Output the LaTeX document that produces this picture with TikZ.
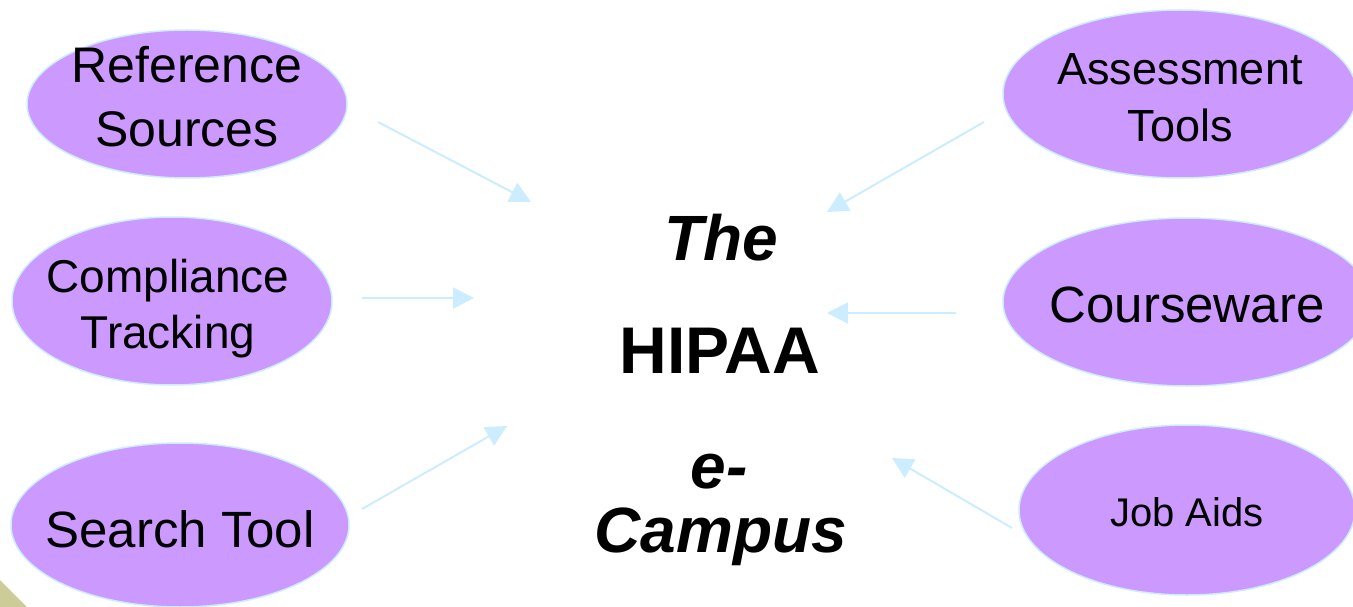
\documentclass[tikz,border=0pt]{standalone}
\usepackage{fontspec}
\setmainfont{Liberation Sans}
\usetikzlibrary{shapes.geometric,arrows.meta}
\definecolor{lilac}{RGB}{204,153,255}
\definecolor{paleblue}{RGB}{204,236,255}
\definecolor{cornercol}{RGB}{204,204,153}
\begin{document}
\begin{tikzpicture}[x=1pt, y=-1pt, thick,
    main/.style = {ellipse, draw=paleblue, line width=1.5pt, fill=lilac, inner sep=0pt},
    words/.style = {align=center, inner sep=0pt},
    link/.style = {draw=paleblue, line width=2pt, -{Triangle[length=21pt,width=21pt]}},
    title/.style = {anchor=base, font=\fontsize{64}{64}\selectfont\bfseries}]
    \useasboundingbox (0,0) rectangle (1353,607);
    \clip (0,0) rectangle (1353,607);
    \fill[cornercol] (0,580) -- (27,607) -- (0,607) -- cycle;

    % left side
    \node[main, minimum width=320pt, minimum height=148pt] (ref)    at (187,104) {};
    \node[main, minimum width=320pt, minimum height=168pt] (comp)   at (172,301) {};
    \node[main, minimum width=338pt, minimum height=164pt] (search) at (180,525) {};
    % right side
    \node[main, minimum width=354pt, minimum height=168pt] (assess) at (1180,94)  {};
    \node[main, minimum width=368pt, minimum height=168pt] (course) at (1187,302) {};
    \node[main, minimum width=336pt, minimum height=170pt] (job)    at (1187,510) {};

    \node[words, font=\fontsize{50}{64}\selectfont, yshift=7pt]    (reftext)    at (ref)          {Reference\\Sources};
    \node[words, font=\fontsize{46}{56}\selectfont, yshift=-8pt]   (comptext)   at ([xshift=-4pt]comp) {Compliance\\Tracking};
    \node[words, font=\fontsize{51}{60}\selectfont, yshift=-4.5pt] (searchtext) at (search)       {Search Tool};
    \node[words, font=\fontsize{45}{57}\selectfont, yshift=-3.5pt] (assesstext) at (assess)       {Assessment\\Tools};
    \node[words, font=\fontsize{51}{60}\selectfont, yshift=-2.5pt] (coursetext) at (course)       {Courseware};
    \node[words, font=\fontsize{40}{48}\selectfont, yshift=-2.5pt] (jobtext)    at (job)          {Job Aids};

    % centre
    \node[title] (the)    at (721,260) {\itshape The};
    \node[title, font=\fontsize{66}{66}\selectfont\bfseries] (hipaa) at (720,373) {HIPAA};
    \node[title] (e)      at (719,488) {\itshape e-};
    \node[title] (campus) at (721,552) {\itshape Campus};

    \coordinate (r1) at (378,122); \coordinate (t1) at (531,202);
    \coordinate (r2) at (362,298); \coordinate (t2) at (474,298);
    \coordinate (r3) at (362,509); \coordinate (t3) at (507,426);
    \coordinate (r4) at (984,122); \coordinate (t4) at (827,212);
    \coordinate (r5) at (956,313); \coordinate (t5) at (827,313);
    \coordinate (r6) at (1012,528); \coordinate (t6) at (892,458);

    \foreach \i in {1,...,6}
        \draw[link] (r\i) -- (t\i);
\end{tikzpicture}
\end{document}
